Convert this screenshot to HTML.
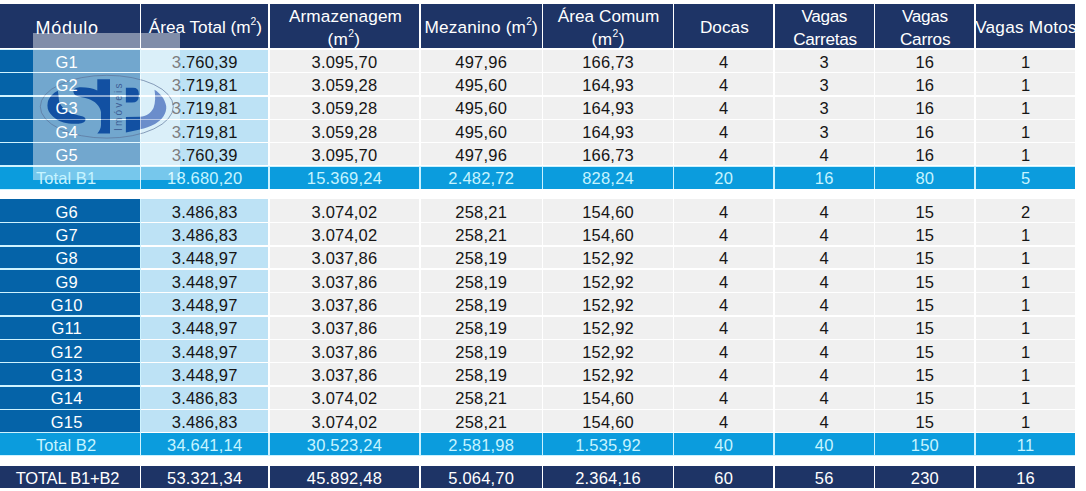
<!DOCTYPE html>
<html lang="pt-BR"><head><meta charset="utf-8"><title>Quadro de áreas</title><style>
html,body{margin:0;padding:0;background:#fff;}
body{width:1086px;height:491px;position:relative;overflow:hidden;font-family:"Liberation Sans",Arial,sans-serif;}
.c{position:absolute;overflow:hidden;}
.t{position:absolute;left:0;right:0;text-align:center;white-space:nowrap;line-height:1;}
.h{background:#1e3466;color:#fff;font-size:17.2px;}
.d{font-size:16.5px;color:#151515;}
.m{background:#0563a8;color:#fff;}
.b{background:#bde2f5;}
.g{background:#f0f0f0;}
.tt{background:#0b9cdd;color:#c6f4ff;}
.gt{background:#1e3466;color:#fff;}
.d .t{letter-spacing:0.2px;}
sup{font-size:0.6em;line-height:0;vertical-align:0;position:relative;top:-0.79em;}
.ov{position:absolute;left:33px;top:33px;width:147px;height:147px;background:rgba(255,255,255,0.44);z-index:1;}
.ln{position:absolute;z-index:3;}
</style></head><body>
<div style="position:absolute;left:0;top:48.5px;width:141px;height:141px;background:#cff3ff"></div>
<div style="position:absolute;left:0;top:199px;width:141px;height:257px;background:#cff3ff"></div>
<div style="position:absolute;left:141px;top:166px;width:934.2px;height:23px;background:#c8f1ff"></div>
<div style="position:absolute;left:141px;top:432.5px;width:934.2px;height:23px;background:#c8f1ff"></div>
<div class="c h" style="left:0px;top:4px;width:139.5px;height:44.3px"><div class="t" style="top:14.56px;left:-2.61px;right:2.61px;font-size:18px;letter-spacing:0.69px">Módulo</div></div>
<div class="c h" style="left:141.1px;top:4px;width:127px;height:44.3px"><div class="t" style="top:15.24px;left:0.81px;right:-0.81px;letter-spacing:-0.01px">Área Total (m<sup>2</sup>)</div></div>
<div class="c h" style="left:269.7px;top:4px;width:149.3px;height:44.3px"><div class="t" style="top:4.24px;left:1.13px;right:-1.13px;letter-spacing:0.12px">Armazenagem</div><div class="t" style="top:26.94px;left:-0.46px;right:0.46px;letter-spacing:0.37px">(m<sup>2</sup>)</div></div>
<div class="c h" style="left:420.6px;top:4px;width:121px;height:44.3px"><div class="t" style="top:15.24px;left:0.13px;right:-0.13px;letter-spacing:0.22px">Mezanino (m<sup>2</sup>)</div></div>
<div class="c h" style="left:543.2px;top:4px;width:129.6px;height:44.3px"><div class="t" style="top:4.24px;left:0.52px;right:-0.52px;letter-spacing:0.03px">Área Comum</div><div class="t" style="top:26.94px;left:0.18px;right:-0.18px;letter-spacing:0.47px">(m<sup>2</sup>)</div></div>
<div class="c h" style="left:674.4px;top:4px;width:98.5px;height:44.3px"><div class="t" style="top:15.24px;left:0.73px;right:-0.73px;letter-spacing:0.02px">Docas</div></div>
<div class="c h" style="left:774.5px;top:4px;width:99.2px;height:44.3px"><div class="t" style="top:4.24px;left:0.18px;right:-0.18px;letter-spacing:-0.37px">Vagas</div><div class="t" style="top:27.24px;left:0.88px;right:-0.88px;letter-spacing:-0.3px">Carretas</div></div>
<div class="c h" style="left:875.3px;top:4px;width:98.9px;height:44.3px"><div class="t" style="top:4.24px;left:0.17px;right:-0.17px;letter-spacing:-0.29px">Vagas</div><div class="t" style="top:27.24px;left:0.41px;right:-0.41px;letter-spacing:-0.18px">Carros</div></div>
<div class="c h" style="left:975.8px;top:4px;width:99.4px;height:44.3px"><div class="t" style="top:15.24px;left:-0.68px;right:0.68px;letter-spacing:0.25px">Vagas Motos</div></div>
<div class="c d m" style="left:0px;top:50.05px;width:139.5px;height:21.84px"><div class="t" style="top:3.68px;left:0;width:133.4px;right:auto;z-index:5">G1</div></div>
<div class="c d b" style="left:141.1px;top:50.05px;width:127px;height:21.84px"><div class="t" style="top:3.68px;left:0.1px;right:-0.1px">3.760,39</div></div>
<div class="c d g" style="left:269.7px;top:50.05px;width:149.3px;height:21.84px"><div class="t" style="top:3.68px;left:0.1px;right:-0.1px">3.095,70</div></div>
<div class="c d g" style="left:420.6px;top:50.05px;width:121px;height:21.84px"><div class="t" style="top:3.68px;left:0.1px;right:-0.1px">497,96</div></div>
<div class="c d g" style="left:543.2px;top:50.05px;width:129.6px;height:21.84px"><div class="t" style="top:3.68px;left:0.1px;right:-0.1px">166,73</div></div>
<div class="c d g" style="left:674.4px;top:50.05px;width:98.5px;height:21.84px"><div class="t" style="top:3.68px;left:0.1px;right:-0.1px">4</div></div>
<div class="c d g" style="left:774.5px;top:50.05px;width:99.2px;height:21.84px"><div class="t" style="top:3.68px;left:0.1px;right:-0.1px">3</div></div>
<div class="c d g" style="left:875.3px;top:50.05px;width:98.9px;height:21.84px"><div class="t" style="top:3.68px;left:0.1px;right:-0.1px">16</div></div>
<div class="c d g" style="left:975.8px;top:50.05px;width:99.4px;height:21.84px"><div class="t" style="top:3.68px;left:0.1px;right:-0.1px">1</div></div>
<div class="c d m" style="left:0px;top:73.39px;width:139.5px;height:21.84px"><div class="t" style="top:3.68px;left:0;width:133.4px;right:auto;z-index:5">G2</div></div>
<div class="c d b" style="left:141.1px;top:73.39px;width:127px;height:21.84px"><div class="t" style="top:3.68px;left:0.1px;right:-0.1px">3.719,81</div></div>
<div class="c d g" style="left:269.7px;top:73.39px;width:149.3px;height:21.84px"><div class="t" style="top:3.68px;left:0.1px;right:-0.1px">3.059,28</div></div>
<div class="c d g" style="left:420.6px;top:73.39px;width:121px;height:21.84px"><div class="t" style="top:3.68px;left:0.1px;right:-0.1px">495,60</div></div>
<div class="c d g" style="left:543.2px;top:73.39px;width:129.6px;height:21.84px"><div class="t" style="top:3.68px;left:0.1px;right:-0.1px">164,93</div></div>
<div class="c d g" style="left:674.4px;top:73.39px;width:98.5px;height:21.84px"><div class="t" style="top:3.68px;left:0.1px;right:-0.1px">4</div></div>
<div class="c d g" style="left:774.5px;top:73.39px;width:99.2px;height:21.84px"><div class="t" style="top:3.68px;left:0.1px;right:-0.1px">3</div></div>
<div class="c d g" style="left:875.3px;top:73.39px;width:98.9px;height:21.84px"><div class="t" style="top:3.68px;left:0.1px;right:-0.1px">16</div></div>
<div class="c d g" style="left:975.8px;top:73.39px;width:99.4px;height:21.84px"><div class="t" style="top:3.68px;left:0.1px;right:-0.1px">1</div></div>
<div class="c d m" style="left:0px;top:96.73px;width:139.5px;height:21.84px"><div class="t" style="top:3.68px;left:0;width:133.4px;right:auto;z-index:5">G3</div></div>
<div class="c d b" style="left:141.1px;top:96.73px;width:127px;height:21.84px"><div class="t" style="top:3.68px;left:0.1px;right:-0.1px">3.719,81</div></div>
<div class="c d g" style="left:269.7px;top:96.73px;width:149.3px;height:21.84px"><div class="t" style="top:3.68px;left:0.1px;right:-0.1px">3.059,28</div></div>
<div class="c d g" style="left:420.6px;top:96.73px;width:121px;height:21.84px"><div class="t" style="top:3.68px;left:0.1px;right:-0.1px">495,60</div></div>
<div class="c d g" style="left:543.2px;top:96.73px;width:129.6px;height:21.84px"><div class="t" style="top:3.68px;left:0.1px;right:-0.1px">164,93</div></div>
<div class="c d g" style="left:674.4px;top:96.73px;width:98.5px;height:21.84px"><div class="t" style="top:3.68px;left:0.1px;right:-0.1px">4</div></div>
<div class="c d g" style="left:774.5px;top:96.73px;width:99.2px;height:21.84px"><div class="t" style="top:3.68px;left:0.1px;right:-0.1px">3</div></div>
<div class="c d g" style="left:875.3px;top:96.73px;width:98.9px;height:21.84px"><div class="t" style="top:3.68px;left:0.1px;right:-0.1px">16</div></div>
<div class="c d g" style="left:975.8px;top:96.73px;width:99.4px;height:21.84px"><div class="t" style="top:3.68px;left:0.1px;right:-0.1px">1</div></div>
<div class="c d m" style="left:0px;top:120.07px;width:139.5px;height:21.84px"><div class="t" style="top:3.68px;left:0;width:133.4px;right:auto;z-index:5">G4</div></div>
<div class="c d b" style="left:141.1px;top:120.07px;width:127px;height:21.84px"><div class="t" style="top:3.68px;left:0.1px;right:-0.1px">3.719,81</div></div>
<div class="c d g" style="left:269.7px;top:120.07px;width:149.3px;height:21.84px"><div class="t" style="top:3.68px;left:0.1px;right:-0.1px">3.059,28</div></div>
<div class="c d g" style="left:420.6px;top:120.07px;width:121px;height:21.84px"><div class="t" style="top:3.68px;left:0.1px;right:-0.1px">495,60</div></div>
<div class="c d g" style="left:543.2px;top:120.07px;width:129.6px;height:21.84px"><div class="t" style="top:3.68px;left:0.1px;right:-0.1px">164,93</div></div>
<div class="c d g" style="left:674.4px;top:120.07px;width:98.5px;height:21.84px"><div class="t" style="top:3.68px;left:0.1px;right:-0.1px">4</div></div>
<div class="c d g" style="left:774.5px;top:120.07px;width:99.2px;height:21.84px"><div class="t" style="top:3.68px;left:0.1px;right:-0.1px">3</div></div>
<div class="c d g" style="left:875.3px;top:120.07px;width:98.9px;height:21.84px"><div class="t" style="top:3.68px;left:0.1px;right:-0.1px">16</div></div>
<div class="c d g" style="left:975.8px;top:120.07px;width:99.4px;height:21.84px"><div class="t" style="top:3.68px;left:0.1px;right:-0.1px">1</div></div>
<div class="c d m" style="left:0px;top:143.41px;width:139.5px;height:21.84px"><div class="t" style="top:3.68px;left:0;width:133.4px;right:auto;z-index:5">G5</div></div>
<div class="c d b" style="left:141.1px;top:143.41px;width:127px;height:21.84px"><div class="t" style="top:3.68px;left:0.1px;right:-0.1px">3.760,39</div></div>
<div class="c d g" style="left:269.7px;top:143.41px;width:149.3px;height:21.84px"><div class="t" style="top:3.68px;left:0.1px;right:-0.1px">3.095,70</div></div>
<div class="c d g" style="left:420.6px;top:143.41px;width:121px;height:21.84px"><div class="t" style="top:3.68px;left:0.1px;right:-0.1px">497,96</div></div>
<div class="c d g" style="left:543.2px;top:143.41px;width:129.6px;height:21.84px"><div class="t" style="top:3.68px;left:0.1px;right:-0.1px">166,73</div></div>
<div class="c d g" style="left:674.4px;top:143.41px;width:98.5px;height:21.84px"><div class="t" style="top:3.68px;left:0.1px;right:-0.1px">4</div></div>
<div class="c d g" style="left:774.5px;top:143.41px;width:99.2px;height:21.84px"><div class="t" style="top:3.68px;left:0.1px;right:-0.1px">4</div></div>
<div class="c d g" style="left:875.3px;top:143.41px;width:98.9px;height:21.84px"><div class="t" style="top:3.68px;left:0.1px;right:-0.1px">16</div></div>
<div class="c d g" style="left:975.8px;top:143.41px;width:99.4px;height:21.84px"><div class="t" style="top:3.68px;left:0.1px;right:-0.1px">1</div></div>
<div class="c d tt" style="left:0px;top:166.75px;width:139.5px;height:22.05px"><div class="t" style="top:3.68px;left:0;width:132.11px;right:auto;z-index:5;letter-spacing:0.09px">Total B1</div></div>
<div class="c d tt" style="left:141.1px;top:166.75px;width:127px;height:22.05px"><div class="t" style="top:3.68px;left:0.1px;right:-0.1px">18.680,20</div></div>
<div class="c d tt" style="left:269.7px;top:166.75px;width:149.3px;height:22.05px"><div class="t" style="top:3.68px;left:0.1px;right:-0.1px">15.369,24</div></div>
<div class="c d tt" style="left:420.6px;top:166.75px;width:121px;height:22.05px"><div class="t" style="top:3.68px;left:0.1px;right:-0.1px">2.482,72</div></div>
<div class="c d tt" style="left:543.2px;top:166.75px;width:129.6px;height:22.05px"><div class="t" style="top:3.68px;left:0.1px;right:-0.1px">828,24</div></div>
<div class="c d tt" style="left:674.4px;top:166.75px;width:98.5px;height:22.05px"><div class="t" style="top:3.68px;left:0.1px;right:-0.1px">20</div></div>
<div class="c d tt" style="left:774.5px;top:166.75px;width:99.2px;height:22.05px"><div class="t" style="top:3.68px;left:0.1px;right:-0.1px">16</div></div>
<div class="c d tt" style="left:875.3px;top:166.75px;width:98.9px;height:22.05px"><div class="t" style="top:3.68px;left:0.1px;right:-0.1px">80</div></div>
<div class="c d tt" style="left:975.8px;top:166.75px;width:99.4px;height:22.05px"><div class="t" style="top:3.68px;left:0.1px;right:-0.1px">5</div></div>
<div class="c d m" style="left:0px;top:199.4px;width:139.5px;height:22.4px"><div class="t" style="top:4.23px;left:0;width:133.4px;right:auto;z-index:5">G6</div></div>
<div class="c d b" style="left:141.1px;top:199.4px;width:127px;height:22.4px"><div class="t" style="top:4.23px;left:0.1px;right:-0.1px">3.486,83</div></div>
<div class="c d g" style="left:269.7px;top:199.4px;width:149.3px;height:22.4px"><div class="t" style="top:4.23px;left:0.1px;right:-0.1px">3.074,02</div></div>
<div class="c d g" style="left:420.6px;top:199.4px;width:121px;height:22.4px"><div class="t" style="top:4.23px;left:0.1px;right:-0.1px">258,21</div></div>
<div class="c d g" style="left:543.2px;top:199.4px;width:129.6px;height:22.4px"><div class="t" style="top:4.23px;left:0.1px;right:-0.1px">154,60</div></div>
<div class="c d g" style="left:674.4px;top:199.4px;width:98.5px;height:22.4px"><div class="t" style="top:4.23px;left:0.1px;right:-0.1px">4</div></div>
<div class="c d g" style="left:774.5px;top:199.4px;width:99.2px;height:22.4px"><div class="t" style="top:4.23px;left:0.1px;right:-0.1px">4</div></div>
<div class="c d g" style="left:875.3px;top:199.4px;width:98.9px;height:22.4px"><div class="t" style="top:4.23px;left:0.1px;right:-0.1px">15</div></div>
<div class="c d g" style="left:975.8px;top:199.4px;width:99.4px;height:22.4px"><div class="t" style="top:4.23px;left:0.1px;right:-0.1px">2</div></div>
<div class="c d m" style="left:0px;top:223.3px;width:139.5px;height:21.85px"><div class="t" style="top:3.68px;left:0;width:133.4px;right:auto;z-index:5">G7</div></div>
<div class="c d b" style="left:141.1px;top:223.3px;width:127px;height:21.85px"><div class="t" style="top:3.68px;left:0.1px;right:-0.1px">3.486,83</div></div>
<div class="c d g" style="left:269.7px;top:223.3px;width:149.3px;height:21.85px"><div class="t" style="top:3.68px;left:0.1px;right:-0.1px">3.074,02</div></div>
<div class="c d g" style="left:420.6px;top:223.3px;width:121px;height:21.85px"><div class="t" style="top:3.68px;left:0.1px;right:-0.1px">258,21</div></div>
<div class="c d g" style="left:543.2px;top:223.3px;width:129.6px;height:21.85px"><div class="t" style="top:3.68px;left:0.1px;right:-0.1px">154,60</div></div>
<div class="c d g" style="left:674.4px;top:223.3px;width:98.5px;height:21.85px"><div class="t" style="top:3.68px;left:0.1px;right:-0.1px">4</div></div>
<div class="c d g" style="left:774.5px;top:223.3px;width:99.2px;height:21.85px"><div class="t" style="top:3.68px;left:0.1px;right:-0.1px">4</div></div>
<div class="c d g" style="left:875.3px;top:223.3px;width:98.9px;height:21.85px"><div class="t" style="top:3.68px;left:0.1px;right:-0.1px">15</div></div>
<div class="c d g" style="left:975.8px;top:223.3px;width:99.4px;height:21.85px"><div class="t" style="top:3.68px;left:0.1px;right:-0.1px">1</div></div>
<div class="c d m" style="left:0px;top:246.65px;width:139.5px;height:21.85px"><div class="t" style="top:3.68px;left:0;width:133.4px;right:auto;z-index:5">G8</div></div>
<div class="c d b" style="left:141.1px;top:246.65px;width:127px;height:21.85px"><div class="t" style="top:3.68px;left:0.1px;right:-0.1px">3.448,97</div></div>
<div class="c d g" style="left:269.7px;top:246.65px;width:149.3px;height:21.85px"><div class="t" style="top:3.68px;left:0.1px;right:-0.1px">3.037,86</div></div>
<div class="c d g" style="left:420.6px;top:246.65px;width:121px;height:21.85px"><div class="t" style="top:3.68px;left:0.1px;right:-0.1px">258,19</div></div>
<div class="c d g" style="left:543.2px;top:246.65px;width:129.6px;height:21.85px"><div class="t" style="top:3.68px;left:0.1px;right:-0.1px">152,92</div></div>
<div class="c d g" style="left:674.4px;top:246.65px;width:98.5px;height:21.85px"><div class="t" style="top:3.68px;left:0.1px;right:-0.1px">4</div></div>
<div class="c d g" style="left:774.5px;top:246.65px;width:99.2px;height:21.85px"><div class="t" style="top:3.68px;left:0.1px;right:-0.1px">4</div></div>
<div class="c d g" style="left:875.3px;top:246.65px;width:98.9px;height:21.85px"><div class="t" style="top:3.68px;left:0.1px;right:-0.1px">15</div></div>
<div class="c d g" style="left:975.8px;top:246.65px;width:99.4px;height:21.85px"><div class="t" style="top:3.68px;left:0.1px;right:-0.1px">1</div></div>
<div class="c d m" style="left:0px;top:270px;width:139.5px;height:21.85px"><div class="t" style="top:3.68px;left:0;width:133.4px;right:auto;z-index:5">G9</div></div>
<div class="c d b" style="left:141.1px;top:270px;width:127px;height:21.85px"><div class="t" style="top:3.68px;left:0.1px;right:-0.1px">3.448,97</div></div>
<div class="c d g" style="left:269.7px;top:270px;width:149.3px;height:21.85px"><div class="t" style="top:3.68px;left:0.1px;right:-0.1px">3.037,86</div></div>
<div class="c d g" style="left:420.6px;top:270px;width:121px;height:21.85px"><div class="t" style="top:3.68px;left:0.1px;right:-0.1px">258,19</div></div>
<div class="c d g" style="left:543.2px;top:270px;width:129.6px;height:21.85px"><div class="t" style="top:3.68px;left:0.1px;right:-0.1px">152,92</div></div>
<div class="c d g" style="left:674.4px;top:270px;width:98.5px;height:21.85px"><div class="t" style="top:3.68px;left:0.1px;right:-0.1px">4</div></div>
<div class="c d g" style="left:774.5px;top:270px;width:99.2px;height:21.85px"><div class="t" style="top:3.68px;left:0.1px;right:-0.1px">4</div></div>
<div class="c d g" style="left:875.3px;top:270px;width:98.9px;height:21.85px"><div class="t" style="top:3.68px;left:0.1px;right:-0.1px">15</div></div>
<div class="c d g" style="left:975.8px;top:270px;width:99.4px;height:21.85px"><div class="t" style="top:3.68px;left:0.1px;right:-0.1px">1</div></div>
<div class="c d m" style="left:0px;top:293.35px;width:139.5px;height:21.85px"><div class="t" style="top:3.68px;left:0;width:133.4px;right:auto;z-index:5">G10</div></div>
<div class="c d b" style="left:141.1px;top:293.35px;width:127px;height:21.85px"><div class="t" style="top:3.68px;left:0.1px;right:-0.1px">3.448,97</div></div>
<div class="c d g" style="left:269.7px;top:293.35px;width:149.3px;height:21.85px"><div class="t" style="top:3.68px;left:0.1px;right:-0.1px">3.037,86</div></div>
<div class="c d g" style="left:420.6px;top:293.35px;width:121px;height:21.85px"><div class="t" style="top:3.68px;left:0.1px;right:-0.1px">258,19</div></div>
<div class="c d g" style="left:543.2px;top:293.35px;width:129.6px;height:21.85px"><div class="t" style="top:3.68px;left:0.1px;right:-0.1px">152,92</div></div>
<div class="c d g" style="left:674.4px;top:293.35px;width:98.5px;height:21.85px"><div class="t" style="top:3.68px;left:0.1px;right:-0.1px">4</div></div>
<div class="c d g" style="left:774.5px;top:293.35px;width:99.2px;height:21.85px"><div class="t" style="top:3.68px;left:0.1px;right:-0.1px">4</div></div>
<div class="c d g" style="left:875.3px;top:293.35px;width:98.9px;height:21.85px"><div class="t" style="top:3.68px;left:0.1px;right:-0.1px">15</div></div>
<div class="c d g" style="left:975.8px;top:293.35px;width:99.4px;height:21.85px"><div class="t" style="top:3.68px;left:0.1px;right:-0.1px">1</div></div>
<div class="c d m" style="left:0px;top:316.7px;width:139.5px;height:21.85px"><div class="t" style="top:3.68px;left:0;width:133.4px;right:auto;z-index:5">G11</div></div>
<div class="c d b" style="left:141.1px;top:316.7px;width:127px;height:21.85px"><div class="t" style="top:3.68px;left:0.1px;right:-0.1px">3.448,97</div></div>
<div class="c d g" style="left:269.7px;top:316.7px;width:149.3px;height:21.85px"><div class="t" style="top:3.68px;left:0.1px;right:-0.1px">3.037,86</div></div>
<div class="c d g" style="left:420.6px;top:316.7px;width:121px;height:21.85px"><div class="t" style="top:3.68px;left:0.1px;right:-0.1px">258,19</div></div>
<div class="c d g" style="left:543.2px;top:316.7px;width:129.6px;height:21.85px"><div class="t" style="top:3.68px;left:0.1px;right:-0.1px">152,92</div></div>
<div class="c d g" style="left:674.4px;top:316.7px;width:98.5px;height:21.85px"><div class="t" style="top:3.68px;left:0.1px;right:-0.1px">4</div></div>
<div class="c d g" style="left:774.5px;top:316.7px;width:99.2px;height:21.85px"><div class="t" style="top:3.68px;left:0.1px;right:-0.1px">4</div></div>
<div class="c d g" style="left:875.3px;top:316.7px;width:98.9px;height:21.85px"><div class="t" style="top:3.68px;left:0.1px;right:-0.1px">15</div></div>
<div class="c d g" style="left:975.8px;top:316.7px;width:99.4px;height:21.85px"><div class="t" style="top:3.68px;left:0.1px;right:-0.1px">1</div></div>
<div class="c d m" style="left:0px;top:340.05px;width:139.5px;height:21.85px"><div class="t" style="top:3.68px;left:0;width:133.4px;right:auto;z-index:5">G12</div></div>
<div class="c d b" style="left:141.1px;top:340.05px;width:127px;height:21.85px"><div class="t" style="top:3.68px;left:0.1px;right:-0.1px">3.448,97</div></div>
<div class="c d g" style="left:269.7px;top:340.05px;width:149.3px;height:21.85px"><div class="t" style="top:3.68px;left:0.1px;right:-0.1px">3.037,86</div></div>
<div class="c d g" style="left:420.6px;top:340.05px;width:121px;height:21.85px"><div class="t" style="top:3.68px;left:0.1px;right:-0.1px">258,19</div></div>
<div class="c d g" style="left:543.2px;top:340.05px;width:129.6px;height:21.85px"><div class="t" style="top:3.68px;left:0.1px;right:-0.1px">152,92</div></div>
<div class="c d g" style="left:674.4px;top:340.05px;width:98.5px;height:21.85px"><div class="t" style="top:3.68px;left:0.1px;right:-0.1px">4</div></div>
<div class="c d g" style="left:774.5px;top:340.05px;width:99.2px;height:21.85px"><div class="t" style="top:3.68px;left:0.1px;right:-0.1px">4</div></div>
<div class="c d g" style="left:875.3px;top:340.05px;width:98.9px;height:21.85px"><div class="t" style="top:3.68px;left:0.1px;right:-0.1px">15</div></div>
<div class="c d g" style="left:975.8px;top:340.05px;width:99.4px;height:21.85px"><div class="t" style="top:3.68px;left:0.1px;right:-0.1px">1</div></div>
<div class="c d m" style="left:0px;top:363.4px;width:139.5px;height:21.85px"><div class="t" style="top:3.68px;left:0;width:133.4px;right:auto;z-index:5">G13</div></div>
<div class="c d b" style="left:141.1px;top:363.4px;width:127px;height:21.85px"><div class="t" style="top:3.68px;left:0.1px;right:-0.1px">3.448,97</div></div>
<div class="c d g" style="left:269.7px;top:363.4px;width:149.3px;height:21.85px"><div class="t" style="top:3.68px;left:0.1px;right:-0.1px">3.037,86</div></div>
<div class="c d g" style="left:420.6px;top:363.4px;width:121px;height:21.85px"><div class="t" style="top:3.68px;left:0.1px;right:-0.1px">258,19</div></div>
<div class="c d g" style="left:543.2px;top:363.4px;width:129.6px;height:21.85px"><div class="t" style="top:3.68px;left:0.1px;right:-0.1px">152,92</div></div>
<div class="c d g" style="left:674.4px;top:363.4px;width:98.5px;height:21.85px"><div class="t" style="top:3.68px;left:0.1px;right:-0.1px">4</div></div>
<div class="c d g" style="left:774.5px;top:363.4px;width:99.2px;height:21.85px"><div class="t" style="top:3.68px;left:0.1px;right:-0.1px">4</div></div>
<div class="c d g" style="left:875.3px;top:363.4px;width:98.9px;height:21.85px"><div class="t" style="top:3.68px;left:0.1px;right:-0.1px">15</div></div>
<div class="c d g" style="left:975.8px;top:363.4px;width:99.4px;height:21.85px"><div class="t" style="top:3.68px;left:0.1px;right:-0.1px">1</div></div>
<div class="c d m" style="left:0px;top:386.75px;width:139.5px;height:21.85px"><div class="t" style="top:3.68px;left:0;width:133.4px;right:auto;z-index:5">G14</div></div>
<div class="c d b" style="left:141.1px;top:386.75px;width:127px;height:21.85px"><div class="t" style="top:3.68px;left:0.1px;right:-0.1px">3.486,83</div></div>
<div class="c d g" style="left:269.7px;top:386.75px;width:149.3px;height:21.85px"><div class="t" style="top:3.68px;left:0.1px;right:-0.1px">3.074,02</div></div>
<div class="c d g" style="left:420.6px;top:386.75px;width:121px;height:21.85px"><div class="t" style="top:3.68px;left:0.1px;right:-0.1px">258,21</div></div>
<div class="c d g" style="left:543.2px;top:386.75px;width:129.6px;height:21.85px"><div class="t" style="top:3.68px;left:0.1px;right:-0.1px">154,60</div></div>
<div class="c d g" style="left:674.4px;top:386.75px;width:98.5px;height:21.85px"><div class="t" style="top:3.68px;left:0.1px;right:-0.1px">4</div></div>
<div class="c d g" style="left:774.5px;top:386.75px;width:99.2px;height:21.85px"><div class="t" style="top:3.68px;left:0.1px;right:-0.1px">4</div></div>
<div class="c d g" style="left:875.3px;top:386.75px;width:98.9px;height:21.85px"><div class="t" style="top:3.68px;left:0.1px;right:-0.1px">15</div></div>
<div class="c d g" style="left:975.8px;top:386.75px;width:99.4px;height:21.85px"><div class="t" style="top:3.68px;left:0.1px;right:-0.1px">1</div></div>
<div class="c d m" style="left:0px;top:410.1px;width:139.5px;height:21.85px"><div class="t" style="top:3.68px;left:0;width:133.4px;right:auto;z-index:5">G15</div></div>
<div class="c d b" style="left:141.1px;top:410.1px;width:127px;height:21.85px"><div class="t" style="top:3.68px;left:0.1px;right:-0.1px">3.486,83</div></div>
<div class="c d g" style="left:269.7px;top:410.1px;width:149.3px;height:21.85px"><div class="t" style="top:3.68px;left:0.1px;right:-0.1px">3.074,02</div></div>
<div class="c d g" style="left:420.6px;top:410.1px;width:121px;height:21.85px"><div class="t" style="top:3.68px;left:0.1px;right:-0.1px">258,21</div></div>
<div class="c d g" style="left:543.2px;top:410.1px;width:129.6px;height:21.85px"><div class="t" style="top:3.68px;left:0.1px;right:-0.1px">154,60</div></div>
<div class="c d g" style="left:674.4px;top:410.1px;width:98.5px;height:21.85px"><div class="t" style="top:3.68px;left:0.1px;right:-0.1px">4</div></div>
<div class="c d g" style="left:774.5px;top:410.1px;width:99.2px;height:21.85px"><div class="t" style="top:3.68px;left:0.1px;right:-0.1px">4</div></div>
<div class="c d g" style="left:875.3px;top:410.1px;width:98.9px;height:21.85px"><div class="t" style="top:3.68px;left:0.1px;right:-0.1px">15</div></div>
<div class="c d g" style="left:975.8px;top:410.1px;width:99.4px;height:21.85px"><div class="t" style="top:3.68px;left:0.1px;right:-0.1px">1</div></div>
<div class="c d tt" style="left:0px;top:433.45px;width:139.5px;height:21.95px"><div class="t" style="top:3.68px;left:0;width:132.11px;right:auto;z-index:5;letter-spacing:0.09px">Total B2</div></div>
<div class="c d tt" style="left:141.1px;top:433.45px;width:127px;height:21.95px"><div class="t" style="top:3.68px;left:0.1px;right:-0.1px">34.641,14</div></div>
<div class="c d tt" style="left:269.7px;top:433.45px;width:149.3px;height:21.95px"><div class="t" style="top:3.68px;left:0.1px;right:-0.1px">30.523,24</div></div>
<div class="c d tt" style="left:420.6px;top:433.45px;width:121px;height:21.95px"><div class="t" style="top:3.68px;left:0.1px;right:-0.1px">2.581,98</div></div>
<div class="c d tt" style="left:543.2px;top:433.45px;width:129.6px;height:21.95px"><div class="t" style="top:3.68px;left:0.1px;right:-0.1px">1.535,92</div></div>
<div class="c d tt" style="left:674.4px;top:433.45px;width:98.5px;height:21.95px"><div class="t" style="top:3.68px;left:0.1px;right:-0.1px">40</div></div>
<div class="c d tt" style="left:774.5px;top:433.45px;width:99.2px;height:21.95px"><div class="t" style="top:3.68px;left:0.1px;right:-0.1px">40</div></div>
<div class="c d tt" style="left:875.3px;top:433.45px;width:98.9px;height:21.95px"><div class="t" style="top:3.68px;left:0.1px;right:-0.1px">150</div></div>
<div class="c d tt" style="left:975.8px;top:433.45px;width:99.4px;height:21.95px"><div class="t" style="top:3.68px;left:0.1px;right:-0.1px">11</div></div>
<div class="c d gt" style="left:0px;top:465.7px;width:139.5px;height:22.3px"><div class="t" style="top:4.33px;left:0;width:134.94px;right:auto;z-index:5;letter-spacing:-0.2px">TOTAL B1+B2</div></div>
<div class="c d gt" style="left:141.1px;top:465.7px;width:127px;height:22.3px"><div class="t" style="top:4.33px;left:0.1px;right:-0.1px">53.321,34</div></div>
<div class="c d gt" style="left:269.7px;top:465.7px;width:149.3px;height:22.3px"><div class="t" style="top:4.33px;left:0.1px;right:-0.1px">45.892,48</div></div>
<div class="c d gt" style="left:420.6px;top:465.7px;width:121px;height:22.3px"><div class="t" style="top:4.33px;left:0.1px;right:-0.1px">5.064,70</div></div>
<div class="c d gt" style="left:543.2px;top:465.7px;width:129.6px;height:22.3px"><div class="t" style="top:4.33px;left:0.1px;right:-0.1px">2.364,16</div></div>
<div class="c d gt" style="left:674.4px;top:465.7px;width:98.5px;height:22.3px"><div class="t" style="top:4.33px;left:0.1px;right:-0.1px">60</div></div>
<div class="c d gt" style="left:774.5px;top:465.7px;width:99.2px;height:22.3px"><div class="t" style="top:4.33px;left:0.1px;right:-0.1px">56</div></div>
<div class="c d gt" style="left:875.3px;top:465.7px;width:98.9px;height:22.3px"><div class="t" style="top:4.33px;left:0.1px;right:-0.1px">230</div></div>
<div class="c d gt" style="left:975.8px;top:465.7px;width:99.4px;height:22.3px"><div class="t" style="top:4.33px;left:0.1px;right:-0.1px">16</div></div>
<div class="ov"></div>
<svg style="position:absolute;left:0;top:0;z-index:2" width="200" height="200" viewBox="0 0 200 200">
<ellipse cx="106.8" cy="106.7" rx="66.5" ry="31.4" fill="none" stroke="#5a7299" stroke-width="0.8" stroke-opacity="0.85"/>
<path fill="#1250a2" d="M73.4,91 C73.4,88.5 77,87.3 81,87.3 C87,87.3 93,88.5 97.3,90.5 L97.3,79.2 L110,79.2 L110,133.5 L97.3,133.5 C99.5,131 101,128 101,125 L101,112 C100,106 95,101 88,98.8 C83,97.3 78,96.6 75.5,95.2 C74,94.3 73.4,92.6 73.4,91 Z"/>
<path fill="#1250a2" d="M57.8,90.7 C53,93 49,97.5 47.8,102 C46.8,107 48,111 50.2,113.5 C53,117 58,121 63.6,122.5 C67,123.5 72,124 77,123.8 C81,123.6 85.5,122.5 85.5,119.5 C85.5,117.6 84,116.8 81,116 C77,115 72,114 68,111.8 C64,109.5 61,106 59.3,102 C58.6,99 58.6,94 57.8,90.7 Z"/>
<path fill="#1250a2" d="M125.9,87.7 L133,87.7 Q138.8,87.7 138.8,93.5 L138.8,96 Q138.8,102.6 132,102.6 L125.9,102.6 Z"/>
<path fill="#1250a2" d="M125.9,117 L140,116.8 L140,129.5 L125.9,132.5 Z"/>
<path fill="#6b8dcb" d="M140,116.8 C146,116.5 151,113 153.5,108 C155.5,103 155.5,96 154.5,89.8 C160,93 165,99 166.2,106 C167,113 162,120 155,124 C150,126.7 145,128.3 140,129.3 Z"/>
<text transform="translate(122.3,130.9) rotate(-90)" font-family="Liberation Sans, sans-serif" font-size="10" fill="#34508a" fill-opacity="0.85" textLength="47.3" lengthAdjust="spacing">Imóveis</text>
</svg>

<div class="ln" style="left:40px;width:135px;top:71.89px;height:1.5px;background:rgba(255,255,255,0.5)"></div>
<div class="ln" style="left:40px;width:135px;top:95.23px;height:1.5px;background:rgba(255,255,255,0.5)"></div>
<div class="ln" style="left:40px;width:135px;top:118.57px;height:1.5px;background:rgba(255,255,255,0.5)"></div>
<div class="ln" style="left:139.5px;width:1.6px;top:75px;height:64px;background:rgba(255,255,255,0.5)"></div>
</body></html>
